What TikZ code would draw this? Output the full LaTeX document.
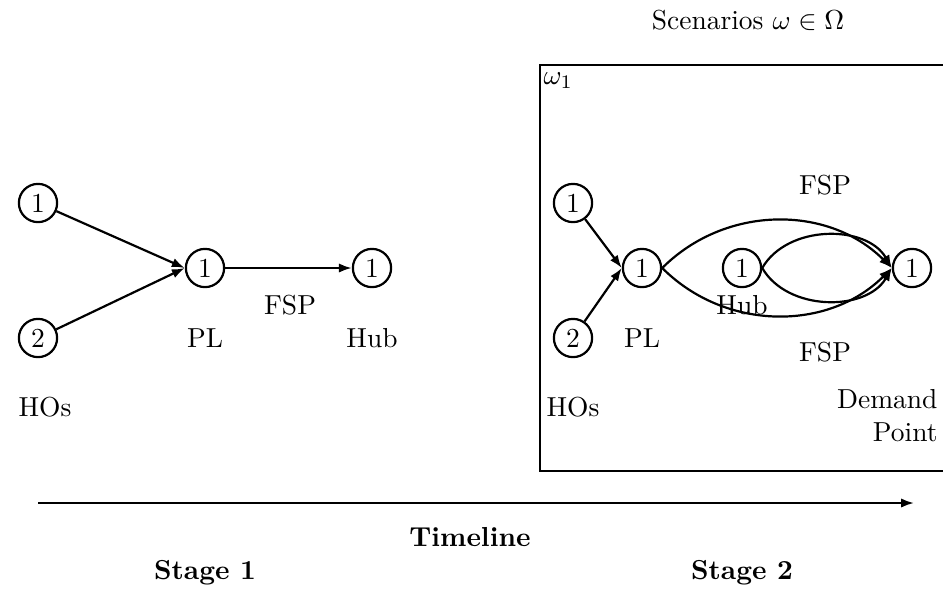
\documentclass[tikz,border=0pt]{standalone}
\usetikzlibrary{arrows.meta}
\begin{document}
\begin{tikzpicture}[x=0.364pt,y=-0.364pt,
  vtx/.style={circle,draw,thick,inner sep=2pt},
  lbl/.style={inner sep=0pt},
  arr/.style={thick,-{Latex[length=4.7pt,width=3.4pt]}}]
\useasboundingbox (0,0) rectangle (943,590);
% Stage 1
\node[vtx] (a1) at (38,203) {1};
\node[vtx] (a2) at (38,338) {2};
\node[vtx] (apl) at (205,268) {1};
\node[vtx] (ahub) at (372,268) {1};
\draw[arr] (a1) -- (apl.west);
\draw[arr] (a2) -- (apl.west);
\draw[arr] (apl) -- (ahub);
\node[lbl] (lfsp) at (290,305) {FSP};
\node[lbl] (lpl) at (205,338) {PL};
\node[lbl] (lhub) at (372,338) {Hub};
\node[lbl] (lhos) at (45,407) {HOs};
% Stage 2 box
\node[lbl] (scen) at (748,20) {Scenarios $\omega\in\Omega$};
\draw[thick] (945,65) -- (540,65) -- (540,471) -- (945,471);
\node[lbl,anchor=north west] (w1) at (543,72) {$\omega_1$};
\node[vtx] (b1) at (573,203) {1};
\node[vtx] (b2) at (573,338) {2};
\node[vtx] (bpl) at (642,268) {1};
\node[vtx] (bhub) at (742,268) {1};
\node[vtx] (bd) at (912,268) {1};
\draw[arr] (b1) -- (bpl.west);
\draw[arr] (b2) -- (bpl.west);
\draw[arr] (bpl.east) to[bend left=45] (bd.west);
\draw[arr] (bpl.east) to[bend right=45] (bd.west);
\draw[arr] (bhub.east) to[bend left=60] (bd.west);
\draw[arr] (bhub.east) to[bend right=60] (bd.west);
\node[lbl] (rfsp1) at (825,185) {FSP};
\node[lbl] (rfsp2) at (825,352) {FSP};
\node[lbl] (rpl) at (642,338) {PL};
\node[lbl] (rhub) at (742,305) {Hub};
\node[lbl] (rhos) at (573,407) {HOs};
\node[lbl,align=right,anchor=east] (rdp) at (938,416) {Demand\\Point};
% Timeline
\coordinate (t0) at (38,503);
\coordinate (t1) at (914,503);
\draw[arr] (t0) -- (t1);
\node[lbl] (tl) at (470,537) {\textbf{Timeline}};
\node[lbl] (s1) at (205,573) {\textbf{Stage 1}};
\node[lbl] (s2) at (742,573) {\textbf{Stage 2}};
\end{tikzpicture}
\end{document}
